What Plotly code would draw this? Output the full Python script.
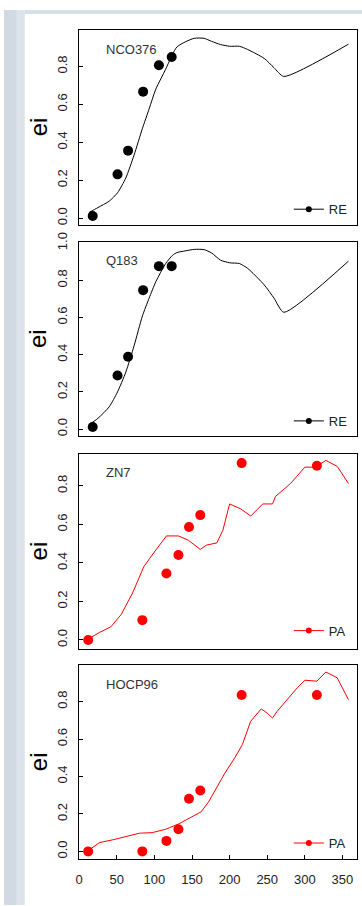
import plotly.graph_objects as go

W, H = 362, 906

# ---------------- data ----------------
re_obs_day = [18, 51, 65, 85, 106, 123]
nco376_obs = [0.012, 0.231, 0.356, 0.667, 0.806, 0.849]
q183_obs = [0.011, 0.288, 0.389, 0.747, 0.876, 0.876]

pa_obs_day = [12, 84, 116, 132, 146, 161, 216, 316]
zn7_obs = [0.0, 0.103, 0.345, 0.441, 0.586, 0.648, 0.918, 0.904]
hocp96_obs = [0.0, 0.0, 0.056, 0.118, 0.281, 0.325, 0.835, 0.835]

re_sim_day = [13, 25, 40, 51, 62, 73, 84, 93, 102, 115, 124, 130, 141, 153,
              166, 176, 188, 200, 213, 224, 246, 259, 272, 358]
nco376_sim = [0.03, 0.056, 0.09, 0.134, 0.212, 0.333, 0.472, 0.576, 0.681, 0.785,
              0.863, 0.903, 0.929, 0.948, 0.948, 0.932, 0.915, 0.906, 0.906, 0.889,
              0.842, 0.793, 0.747, 0.917]
q183_sim = [0.023, 0.058, 0.12, 0.2, 0.306, 0.448, 0.607, 0.704, 0.793, 0.89,
            0.934, 0.949, 0.958, 0.966, 0.965, 0.947, 0.908, 0.894, 0.89, 0.864,
            0.775, 0.704, 0.628, 0.903]

zn7_sim_day = [12, 27, 42, 56, 71, 86, 97, 116, 132, 145, 161, 169, 183, 191, 200,
               215, 228, 244, 257, 261, 281, 300, 314, 328, 343, 358]
zn7_sim = [0.005, 0.039, 0.068, 0.133, 0.244, 0.381, 0.441, 0.54, 0.54, 0.518, 0.47,
           0.492, 0.504, 0.569, 0.706, 0.68, 0.643, 0.706, 0.706, 0.745, 0.812, 0.897,
           0.897, 0.932, 0.901, 0.812]

hocp96_sim_day = [12, 27, 45, 62, 80, 97, 115, 132, 147, 162, 172, 185, 193, 207, 217,
                  228, 242, 250, 257, 263, 272, 290, 300, 310, 316, 328, 343, 358]
hocp96_sim = [0.004, 0.047, 0.062, 0.077, 0.097, 0.1, 0.118, 0.146, 0.179, 0.211, 0.264,
              0.36, 0.413, 0.501, 0.571, 0.695, 0.761, 0.738, 0.712, 0.747, 0.791, 0.874,
              0.914, 0.909, 0.909, 0.958, 0.927, 0.81]

panel_names = ["NCO376", "Q183", "ZN7", "HOCP96"]
legend_names = ["RE", "RE", "PA", "PA"]
x_ticks = [0, 50, 100, 150, 200, 250, 300, 350]
y_ticks = [[0, 0.2, 0.4, 0.6, 0.8], [0, 0.2, 0.4, 0.6, 0.8, 1.0],
           [0, 0.2, 0.4, 0.6, 0.8], [0, 0.2, 0.4, 0.6, 0.8]]
y_label = "ei"

# ---------------- layout geometry (pixels) ----------------
box_left, box_right = 76, 356.7
box_tb = [(20, 217.3), (235, 431), (449.3, 646.7), (663.3, 859.3)]
y_ranges = [[-0.034, 0.993], [-0.036, 1.005], [-0.046, 0.966], [-0.040, 0.994]]
x_range = [0, 369]
legend_y_px = [201.7, 416, 628.3, 843.3]
label_y_px = [40, 253.5, 468.5, 683]

def px_x(p):
    return p / W

def px_y(p):
    return 1 - p / H

panels = [
    (re_obs_day, nco376_obs, re_sim_day, nco376_sim, "black", "spline"),
    (re_obs_day, q183_obs, re_sim_day, q183_sim, "black", "spline"),
    (pa_obs_day, zn7_obs, zn7_sim_day, zn7_sim, "#ff0000", "linear"),
    (pa_obs_day, hocp96_obs, hocp96_sim_day, hocp96_sim, "#ff0000", "linear"),
]

fig = go.Figure()
layout = dict(
    width=W, height=H,
    margin=dict(l=0, r=0, t=0, b=0),
    paper_bgcolor="white", plot_bgcolor="white",
    font=dict(family="Liberation Sans, Arial, sans-serif", color="#222"),
    showlegend=True,
)
annotations = []
shapes = [
    dict(type="rect", xref="paper", yref="paper", x0=0, x1=px_x(13), y0=0, y1=1,
         fillcolor="#d1d9e3", line=dict(width=0), layer="below"),
    dict(type="rect", xref="paper", yref="paper", x0=px_x(13), x1=px_x(21), y0=0, y1=1,
         fillcolor="#dce3eb", line=dict(width=0), layer="below"),
    dict(type="rect", xref="paper", yref="paper", x0=px_x(21), x1=1, y0=px_y(4), y1=1,
         fillcolor="#d6dee7", line=dict(width=0), layer="below"),
]

for i, (od, ov, sd, sv, col, shp) in enumerate(panels):
    n = i + 1
    xa = "x" if n == 1 else f"x{n}"
    ya = "y" if n == 1 else f"y{n}"
    lg = "legend" if n == 1 else f"legend{n}"
    line_kw = dict(color=col, width=1, shape=shp)
    if shp == "spline":
        line_kw["smoothing"] = 0.6
    fig.add_trace(go.Scatter(x=sd, y=sv, mode="lines", line=line_kw,
                             xaxis=xa, yaxis=ya, showlegend=False, hoverinfo="skip"))
    fig.add_trace(go.Scatter(x=od, y=ov, mode="markers", marker=dict(color=col, size=10),
                             xaxis=xa, yaxis=ya, showlegend=False))
    fig.add_trace(go.Scatter(x=[None], y=[None], mode="lines+markers",
                             line=dict(color=col, width=1), marker=dict(color=col, size=6),
                             name=legend_names[i], xaxis=xa, yaxis=ya, legend=lg,
                             showlegend=True))
    top, bot = box_tb[i]
    xkey = "xaxis" if n == 1 else f"xaxis{n}"
    ykey = "yaxis" if n == 1 else f"yaxis{n}"
    last = (n == 4)
    layout[xkey] = dict(
        domain=[px_x(box_left), px_x(box_right)], anchor=ya, range=x_range,
        showline=True, linecolor="black", linewidth=1, mirror=True,
        showgrid=False, zeroline=False,
        ticks="inside" if last else "", ticklen=4, tickcolor="black",
        tickvals=x_ticks, showticklabels=last,
        tickfont=dict(size=13, color="#222"), ticklabelstandoff=9,
    )
    layout[ykey] = dict(
        domain=[px_y(bot), px_y(top)], anchor=xa, range=y_ranges[i],
        showline=True, linecolor="black", linewidth=1, mirror=True,
        showgrid=False, zeroline=False,
        ticks="inside", ticklen=4, tickcolor="black",
        tickvals=y_ticks[i], tickformat=".1f", tickangle=-90,
        tickfont=dict(size=13, color="#222"), ticklabelstandoff=6,
    )
    layout[lg] = dict(x=px_x(288), xanchor="left", y=px_y(legend_y_px[i]), yanchor="middle",
                      bgcolor="rgba(0,0,0,0)", font=dict(size=13, color="#222"),
                      itemwidth=30)
    annotations.append(dict(text=panel_names[i], xref="paper", yref="paper",
                            x=px_x(101), y=px_y(label_y_px[i]), xanchor="left",
                            yanchor="middle", showarrow=False,
                            font=dict(size=13, color="#333")))
    annotations.append(dict(text=y_label, xref="paper", yref="paper",
                            x=px_x(34.5), y=px_y((top + bot) / 2), xanchor="center",
                            yanchor="middle", textangle=-90, showarrow=False,
                            font=dict(size=24, color="black")))

layout["annotations"] = annotations
layout["shapes"] = shapes
fig.update_layout(**layout)
fig.write_html("out.html")
